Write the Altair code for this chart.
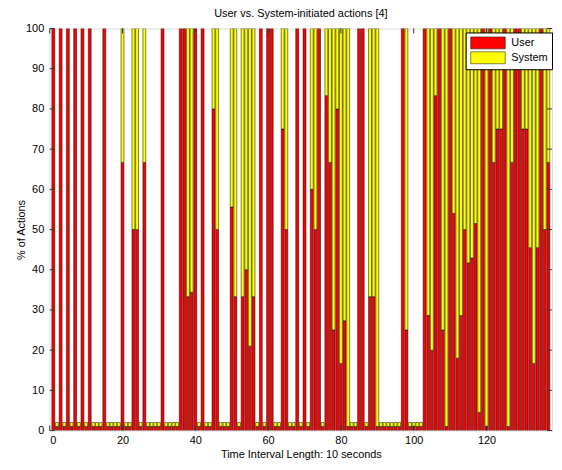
import altair as alt
import pandas as pd

# interval index (10-second intervals)
intervals = list(range(1, 138))

# % of actions initiated by the user in each interval
user = [100, 1, 100, 1, 100, 1, 100, 1, 100, 1,
        100, 1, 1, 1, 100, 1, 1, 1, 1, 66.7,
        1, 1, 50, 50, 1, 66.7, 1, 1, 1, 1,
        100, 1, 1, 1, 1, 100, 100, 33.3, 34.4, 100,
        1, 100, 1, 1, 80, 50, 1, 1, 1, 55.6,
        33.3, 1, 33.3, 40, 21, 33.3, 1, 100, 1, 100,
        100, 1, 1, 75, 50, 1, 1, 100, 1, 100,
        1, 60, 50, 100, 1, 83.3, 66.7, 25, 80, 16.7,
        27.3, 1, 1, 1, 100, 100, 1, 33.3, 33.3, 1,
        1, 1, 1, 1, 1, 1, 100, 25, 1, 1,
        1, 1, 100, 28.6, 20, 83.3, 100, 25, 1, 100,
        54, 18, 28.6, 50, 41.7, 42.9, 51.5, 4.5, 100, 1,
        100, 66.7, 75, 75, 100, 1, 66.7, 100, 100, 75,
        75, 45.5, 16.7, 45.5, 100, 50, 66.7]

# % of actions initiated by the system in each interval
system = [0, 1, 0, 1, 0, 1, 0, 1, 0, 1,
          0, 1, 1, 1, 0, 1, 1, 1, 1, 33.3,
          1, 1, 50, 50, 1, 33.3, 1, 1, 1, 1,
          0, 1, 1, 1, 1, 0, 0, 66.7, 65.6, 0,
          1, 0, 1, 1, 20, 50, 1, 1, 1, 44.4,
          66.7, 1, 66.7, 60, 79, 66.7, 1, 0, 1, 0,
          0, 1, 1, 25, 50, 1, 1, 0, 1, 0,
          1, 40, 50, 0, 1, 16.7, 33.3, 75, 20, 83.3,
          72.7, 99, 1, 1, 0, 0, 1, 66.7, 66.7, 99,
          1, 1, 1, 1, 1, 1, 0, 75, 1, 1,
          1, 1, 0, 71.4, 80, 16.7, 0, 75, 99, 0,
          46, 82, 71.4, 50, 58.3, 57.1, 48.5, 95.5, 0, 99,
          0, 33.3, 25, 25, 0, 99, 33.3, 0, 0, 25,
          25, 54.5, 83.3, 54.5, 0, 50, 33.3]

series_names = ["User", "System"]
series_colors = ["#ff0000", "#ffff00"]
x_ticks = [0, 20, 40, 60, 80, 100, 120]
y_ticks = [0, 10, 20, 30, 40, 50, 60, 70, 80, 90, 100]

rows = []
for xi, u, s in zip(intervals, user, system):
    rows.append({"x": xi, "series": "User", "lo": 0, "hi": u, "value": u})
    rows.append({"x": xi, "series": "System", "lo": u, "hi": u + s, "value": s})
df = pd.DataFrame(rows)

W, H = 506, 405
FONT = "Liberation Sans"

xscale = alt.Scale(domain=[0, 138], nice=False, zero=False)
yscale = alt.Scale(domain=[0, 100], nice=False)

xaxis = alt.Axis(values=x_ticks, tickSize=0, labelPadding=4, domain=False, grid=False,
                 title="Time Interval Length: 10 seconds", titlePadding=3,
                 labelFontSize=11, titleFontSize=11, titleFontWeight="normal",
                 labelFont=FONT, titleFont=FONT, labelColor="black", titleColor="black")
yaxis = alt.Axis(values=y_ticks, tickSize=0, labelPadding=6, domain=False, grid=False,
                 title="% of Actions", titlePadding=-1,
                 labelFontSize=11, titleFontSize=11, titleFontWeight="normal",
                 labelFont=FONT, titleFont=FONT, labelColor="black", titleColor="black")

bars = alt.Chart(df).transform_filter("datum.value > 0").transform_calculate(
    xl="datum.x - 0.4", xr="datum.x + 0.4"
).mark_bar(stroke="black", strokeWidth=0.5, clip=True).encode(
    x=alt.X("xl:Q", scale=xscale, axis=xaxis),
    x2="xr:Q",
    y=alt.Y("lo:Q", scale=yscale, axis=yaxis),
    y2="hi:Q",
    color=alt.Color("series:N", scale=alt.Scale(domain=series_names, range=series_colors),
                    legend=alt.Legend(orient="none", legendX=419, legendY=4, title=None,
                                      symbolType="M-2.9,-1H2.9V1H-2.9Z", symbolSize=144,
                                      symbolOffset=12,
                                      symbolStrokeColor="black", symbolStrokeWidth=0.5,
                                      labelFontSize=11, labelFont=FONT, labelColor="black",
                                      strokeColor="black", fillColor="white",
                                      padding=4, rowPadding=0, labelOffset=17)),
)

ydf = pd.DataFrame({"t": y_ticks})
xdf = pd.DataFrame({"t": x_ticks})
tick_color = "#333333"
yt_left = alt.Chart(ydf).mark_rule(color=tick_color, strokeWidth=1).encode(
    y=alt.Y("t:Q", scale=yscale, axis=yaxis), x=alt.value(0), x2=alt.value(5))
yt_right = alt.Chart(ydf).mark_rule(color=tick_color, strokeWidth=1).encode(
    y=alt.Y("t:Q", scale=yscale, axis=yaxis), x=alt.value(W - 5), x2=alt.value(W))
xt_bottom = alt.Chart(xdf).mark_rule(color=tick_color, strokeWidth=1).encode(
    x=alt.X("t:Q", scale=xscale, axis=xaxis), y=alt.value(H), y2=alt.value(H - 5))
xt_top = alt.Chart(xdf).mark_rule(color=tick_color, strokeWidth=1).encode(
    x=alt.X("t:Q", scale=xscale, axis=xaxis), y=alt.value(0), y2=alt.value(5))

chart = alt.layer(bars, yt_left, yt_right, xt_bottom, xt_top).properties(
    width=W, height=H,
    title=alt.TitleParams("User vs. System-initiated actions [4]", fontSize=11, fontWeight="normal",
                          font=FONT, color="black", offset=4, anchor="middle"),
    padding={"left": 42, "top": 19, "right": 2, "bottom": 30},
    autosize=alt.AutoSizeParams(type="none"),
).configure_view(stroke=tick_color, strokeWidth=1).configure(background="white")

chart.save("out.html", embed_options={"renderer": "svg", "actions": False})
